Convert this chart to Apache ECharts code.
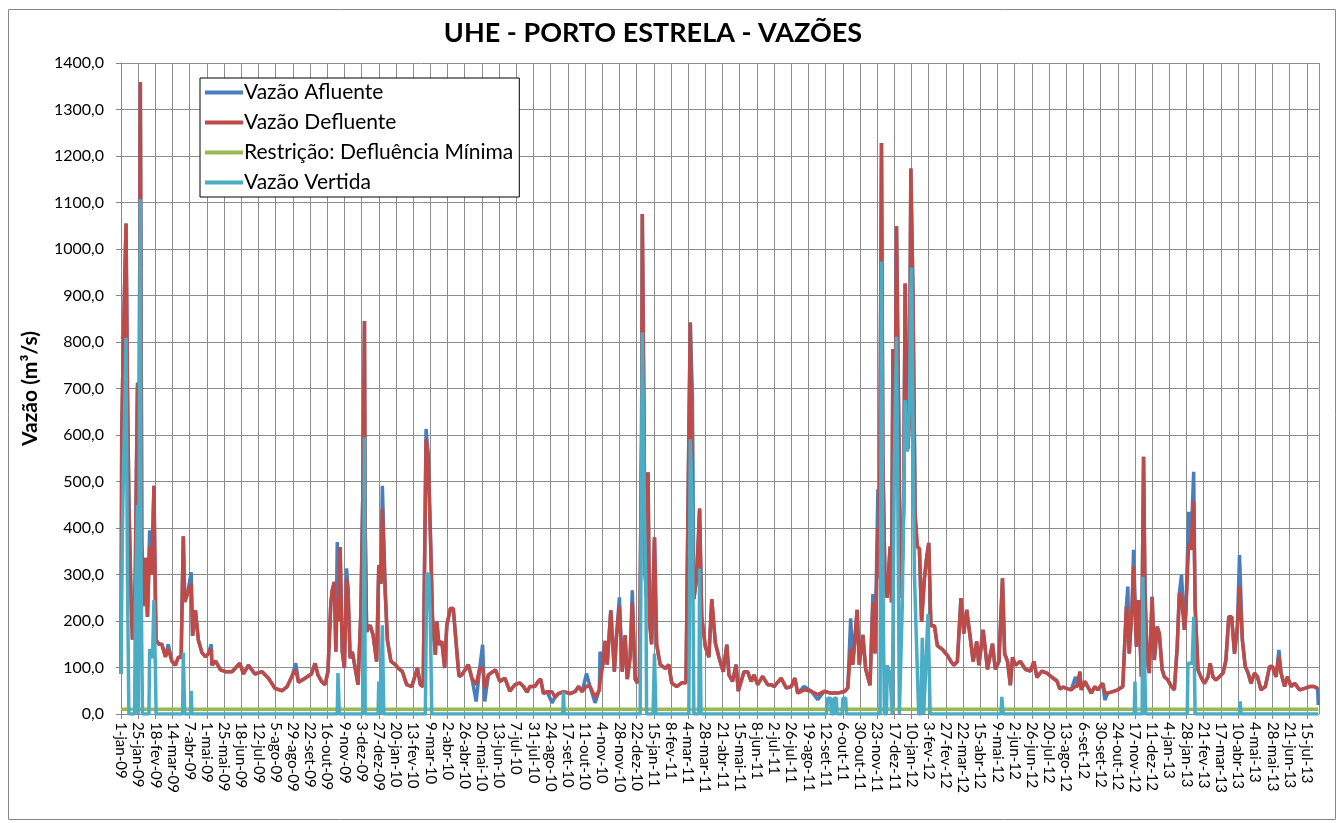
<!DOCTYPE html>
<html lang="pt-BR">
<head>
  <meta charset="UTF-8">
  <title>UHE - PORTO ESTRELA - VAZÕES</title>
  <script src="https://cdn.jsdelivr.net/npm/echarts@6.0.0/dist/echarts.min.js"></script>
  <style>
    html, body { margin: 0; padding: 0; width: 100%; height: 100%; background: #fff; }
    #chart { width: 1339px; height: 823px; }
  </style>
</head>
<body>
  <div id="chart"></div>
  <script>
    // dias contados a partir de 01/01/2009 (dados diários)
    const dia = [0,1,3,7,9,11,14,16,17,19,20,21,23,25,27,28,29,31,34,37,40,43,46,48,49,53,57,62,66,71,76,80,84,86,87,89,93,98,100,104,106,108,113,118,122,126,127,132,139,146,155,166,171,178,187,197,206,215,225,232,239,244,248,257,266,271,275,280,285,289,293,295,298,300,302,304,306,309,312,315,317,320,323,327,331,335,338,340,341,343,348,352,357,360,363,365,369,372,377,383,387,393,399,406,414,418,422,426,429,432,435,439,441,444,448,452,455,460,464,469,472,476,485,490,496,501,505,508,513,523,529,536,543,550,557,562,567,571,578,583,586,590,595,602,606,611,618,627,634,639,644,650,655,662,668,669,673,676,679,684,689,692,696,700,704,707,711,714,718,721,724,727,728,730,732,734,736,738,741,745,748,753,760,765,769,776,783,789,790,793,795,798,800,804,808,811,816,821,825,830,835,841,846,849,854,859,862,866,870,875,880,884,889,896,903,908,912,922,929,936,941,945,954,964,973,982,991,1001,1011,1015,1019,1022,1028,1031,1036,1040,1046,1050,1053,1057,1059,1062,1064,1067,1070,1074,1076,1078,1081,1083,1086,1088,1090,1093,1095,1097,1099,1101,1103,1106,1109,1112,1115,1118,1122,1125,1128,1131,1136,1140,1147,1154,1159,1163,1168,1173,1177,1181,1186,1190,1195,1198,1204,1210,1217,1221,1226,1231,1234,1238,1242,1245,1249,1256,1263,1270,1275,1279,1286,1293,1300,1307,1311,1316,1320,1327,1333,1336,1339,1341,1346,1350,1355,1360,1364,1371,1374,1378,1385,1392,1399,1404,1406,1408,1412,1414,1418,1421,1425,1428,1430,1433,1436,1440,1443,1447,1450,1454,1457,1462,1467,1471,1475,1478,1481,1485,1487,1491,1494,1498,1500,1504,1508,1513,1518,1521,1525,1529,1534,1539,1543,1547,1551,1555,1559,1562,1566,1570,1574,1578,1583,1587,1592,1598,1604,1608,1613,1617,1620,1625,1629,1634,1639,1646,1653,1660,1666,1671,1672];

    const defluente = [86,600,780,1055,700,459,250,160,180,232,300,450,705,420,1359,900,368,232,336,209,360,300,491,250,159,150,150,123,140,114,105,122,122,300,382,241,260,280,168,223,225,159,132,123,130,140,105,114,95,91,91,109,86,105,86,91,77,55,50,59,82,95,68,77,86,109,84,70,63,91,238,266,284,134,250,200,359,134,99,290,270,120,134,99,63,220,500,845,400,177,191,170,113,320,280,441,263,159,113,106,99,91,63,59,99,63,59,591,556,391,206,127,199,149,156,99,191,227,227,134,81,84,106,77,63,99,99,55,84,95,70,77,49,63,67,59,47,59,59,71,75,44,48,48,36,44,48,44,48,59,48,60,59,36,52,70,106,157,106,223,91,169,231,91,169,75,122,240,75,67,80,600,1075,700,300,250,520,200,150,380,150,106,98,106,67,59,67,67,200,600,842,400,247,294,442,208,145,122,247,153,122,91,149,84,70,106,49,70,91,91,70,84,63,81,63,63,59,77,56,59,77,45,52,49,42,49,45,45,49,56,141,106,224,106,170,96,62,240,130,400,292,1228,550,275,250,360,240,785,600,1049,640,343,250,445,926,726,570,640,1173,900,428,360,355,198,292,335,368,190,190,147,139,126,113,105,113,249,173,224,164,113,156,105,181,96,151,96,113,292,130,113,62,122,105,113,96,92,113,79,92,88,79,71,54,58,55,52,60,59,91,52,70,59,45,59,52,66,45,45,48,52,59,231,200,130,231,317,145,245,80,553,260,116,88,252,116,188,173,95,80,73,59,52,145,260,250,181,216,367,353,457,231,95,80,66,80,109,80,73,80,88,116,209,209,130,188,274,159,102,88,66,88,80,52,59,102,102,80,123,88,59,80,59,66,52,55,59,59,55,55];

    const afluente = [86,600,780,1055,700,459,250,160,180,232,300,450,713,420,1359,900,368,232,336,209,395,300,491,250,159,150,150,123,150,114,105,122,122,300,382,241,260,305,168,223,225,159,132,123,130,150,105,114,95,91,91,109,86,105,86,91,77,55,50,59,82,109,68,77,86,109,84,70,63,91,238,266,284,134,370,200,359,134,99,313,270,120,134,99,63,220,500,845,400,177,191,170,113,320,280,491,263,159,113,106,99,91,63,59,99,63,59,613,556,391,206,127,199,149,156,99,191,227,227,134,81,84,106,77,27,99,149,27,84,95,70,77,49,63,67,59,47,59,59,71,75,44,48,24,36,44,48,44,48,59,48,87,59,24,52,134,106,157,106,223,91,169,251,91,169,75,122,266,75,67,80,600,1075,700,300,250,520,200,150,380,150,106,98,106,67,59,67,67,200,600,842,684,247,294,442,208,145,122,247,153,122,91,149,84,70,106,49,70,91,91,70,84,63,81,63,63,59,77,56,59,77,45,59,49,31,49,45,45,49,56,206,106,224,106,170,96,62,258,130,483,292,1228,550,275,250,360,240,785,600,1049,640,343,250,445,926,726,570,640,1173,900,428,360,355,198,292,335,368,190,190,147,139,126,113,105,113,249,173,224,164,113,156,105,181,96,151,96,113,292,130,113,62,122,105,113,96,92,113,79,92,88,79,71,54,58,55,52,80,59,91,52,70,59,45,59,52,66,30,45,48,52,59,231,274,130,231,353,145,245,80,553,260,116,88,252,116,188,173,95,80,73,59,52,145,260,299,181,216,435,353,521,231,95,80,66,80,109,80,73,80,88,116,209,209,130,188,342,159,102,88,66,88,80,52,59,102,102,80,138,88,59,80,59,66,52,55,59,59,55,19];

    const diaVertida = [0,2,7,9,11,19,20,23,24,26,27,28,30,39,40,44,46,48,49,86,87,89,97,98,99,302,303,305,338,340,341,359,360,362,364,365,367,425,427,430,432,434,617,618,619,725,728,731,733,734,743,745,747,793,795,798,800,807,808,810,985,987,991,992,995,996,999,1000,1007,1008,1012,1013,1060,1062,1064,1066,1069,1070,1074,1077,1080,1083,1084,1087,1089,1091,1095,1098,1101,1103,1104,1108,1111,1114,1117,1119,1121,1124,1127,1130,1229,1230,1232,1415,1416,1417,1426,1427,1429,1431,1489,1490,1496,1498,1500,1562,1563,1564,1672];
    const vertida = [86,400,809,300,0,0,232,450,0,0,1107,300,0,0,140,120,245,100,0,0,132,0,0,50,0,0,88,0,0,595,0,0,70,0,0,191,0,0,302,300,200,0,0,48,0,0,821,434,270,0,0,130,0,0,591,427,0,0,313,0,0,34,34,0,0,34,34,0,0,34,34,0,0,973,300,0,0,105,85,0,539,811,640,0,0,232,675,564,658,913,960,300,147,0,0,164,0,105,215,0,0,37,0,0,70,0,0,295,150,0,0,109,109,209,0,0,27,0,0];

    const defluenciaMinima = 10;
    const meses = ['jan','fev','mar','abr','mai','jun','jul','ago','set','out','nov','dez'];
    const inicio = Date.UTC(2009, 0, 1);

    const rotuloData = (d) => {
      const dt = new Date(inicio + d * 86400000);
      return dt.getUTCDate() + '-' + meses[dt.getUTCMonth()] + '-' + String(dt.getUTCFullYear()).slice(2);
    };

    const fonte = 'Lato, "Liberation Sans", sans-serif';
    const ultimoDia = dia[dia.length - 1];

    const chart = echarts.init(document.getElementById('chart'));
    chart.setOption({
      animation: false,
      backgroundColor: '#ffffff',
      textStyle: { fontFamily: fonte },
      graphic: [{
        type: 'rect', left: 6, top: 7, silent: true,
        shape: { width: 1327, height: 810 },
        style: { fill: 'none', stroke: '#868686', lineWidth: 1 }
      }],
      title: {
        text: 'UHE - PORTO ESTRELA - VAZÕES',
        left: 648, top: 15, textAlign: 'center',
        textStyle: { fontFamily: fonte, fontSize: 27, fontWeight: 'bold', color: '#000' }
      },
      legend: {
        orient: 'vertical', left: 200, top: 78,
        icon: 'rect', itemWidth: 38, itemHeight: 4, itemGap: 9,
        padding: [4, 6, 4, 5],
        backgroundColor: '#fff', borderColor: '#000', borderWidth: 1,
        textStyle: { fontFamily: fonte, fontSize: 21, color: '#000', padding: [0, 0, 0, -4] },
        data: ['Vazão Afluente', 'Vazão Defluente', 'Restrição: Defluência Mínima', 'Vazão Vertida']
      },
      grid: { left: 121, right: 20, top: 63, bottom: 109 },
      xAxis: {
        type: 'value', min: 0, max: ultimoDia + 1, interval: 24,
        axisLine: { lineStyle: { color: '#868686' } },
        axisTick: { length: 5, lineStyle: { color: '#868686' } },
        splitLine: { show: true, lineStyle: { color: '#8c8c8c', width: 1 } },
        axisLabel: {
          rotate: -90, margin: 8, fontSize: 15, color: '#000', showMaxLabel: false,
          formatter: (v) => (v % 24 === 0 ? rotuloData(v) : '')
        }
      },
      yAxis: {
        type: 'value', min: 0, max: 1400, interval: 100,
        name: 'Vazão (m³/s)', nameLocation: 'middle', nameGap: 80,
        nameTextStyle: { fontFamily: fonte, fontSize: 21, fontWeight: 'bold', color: '#000' },
        axisLine: { show: true, lineStyle: { color: '#868686' } },
        axisTick: { show: true, length: 5, lineStyle: { color: '#868686' } },
        splitLine: { lineStyle: { color: '#8c8c8c', width: 1 } },
        axisLabel: {
          margin: 17, fontSize: 16, color: '#000',
          formatter: (v) => v.toFixed(1).replace('.', ',')
        }
      },
      series: [
        {
          name: 'Vazão Afluente', type: 'line', showSymbol: false, symbol: 'none',
          data: dia.map((d, i) => [d, afluente[i]]),
          lineStyle: { color: '#4a7ebb', width: 3.5 }, itemStyle: { color: '#4a7ebb' }
        },
        {
          name: 'Vazão Defluente', type: 'line', showSymbol: false, symbol: 'none',
          data: dia.map((d, i) => [d, defluente[i]]),
          lineStyle: { color: '#be4b48', width: 3.5 }, itemStyle: { color: '#be4b48' }
        },
        {
          name: 'Restrição: Defluência Mínima', type: 'line', showSymbol: false, symbol: 'none',
          data: [[0, defluenciaMinima], [ultimoDia, defluenciaMinima]],
          lineStyle: { color: '#98b954', width: 3.5 }, itemStyle: { color: '#98b954' }
        },
        {
          name: 'Vazão Vertida', type: 'line', showSymbol: false, symbol: 'none',
          data: diaVertida.map((d, i) => [d, vertida[i]]),
          lineStyle: { color: '#4bacc6', width: 3.5 }, itemStyle: { color: '#4bacc6' }
        }
      ]
    });
  </script>
</body>
</html>
